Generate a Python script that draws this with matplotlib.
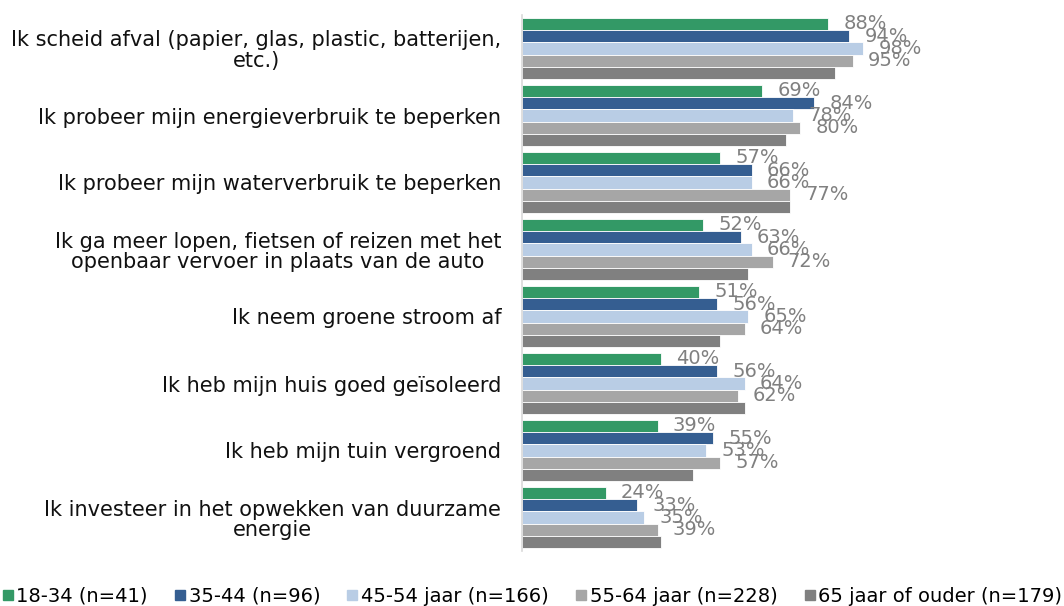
import matplotlib.pyplot as plt
from matplotlib.lines import Line2D
import numpy as np

plt.rcParams['font.family'] = ['DejaVu Sans']

categories = [
    "Ik scheid afval (papier, glas, plastic, batterijen,\netc.)",
    "Ik probeer mijn energieverbruik te beperken",
    "Ik probeer mijn waterverbruik te beperken",
    "Ik ga meer lopen, fietsen of reizen met het\nopenbaar vervoer in plaats van de auto",
    "Ik neem groene stroom af",
    "Ik heb mijn huis goed geïsoleerd",
    "Ik heb mijn tuin vergroend",
    "Ik investeer in het opwekken van duurzame\nenergie",
]
series_names = ["18-34 (n=41)", "35-44 (n=96)", "45-54 jaar (n=166)",
                "55-64 jaar (n=228)", "65 jaar of ouder (n=179)"]
v_18_34 = [88, 69, 57, 52, 51, 40, 39, 24]
v_35_44 = [94, 84, 66, 63, 56, 56, 55, 33]
v_45_54 = [98, 78, 66, 66, 65, 64, 53, 35]
v_55_64 = [95, 80, 77, 72, 64, 62, 57, 39]
v_65plus = [90, 76, 77, 65, 57, 64, 49, 40]
# the oldest group has no data labels in the original
show_labels = [True, True, True, True, False]

colors = ["#339966", "#355E91", "#B9CDE5", "#A6A6A6", "#808080"]
values = [v_18_34, v_35_44, v_45_54, v_55_64, v_65plus]

fig = plt.figure(figsize=(10.64, 6.06), dpi=100)
ax = fig.add_axes([522 / 1064, 55 / 606, 348 / 1064, 536 / 606])

y = np.arange(len(categories))
h = 0.184
for j, vals in enumerate(values):
    pos = y + (j - 2) * h
    ax.barh(pos, vals, height=h, color=colors[j], edgecolor="white", linewidth=0.6)
    if show_labels[j]:
        for p, v in zip(pos, vals):
            ax.annotate(f"{v}%", (v, p), xytext=(11, 0), textcoords="offset points",
                        va="center", ha="left", fontsize=14, color="#808080",
                        annotation_clip=False)

ax.set_xlim(0, 100)
ax.set_ylim(len(categories) - 0.5, -0.5)
ax.set_yticks(y)
ax.set_yticklabels(categories, fontsize=15, color="#111111", multialignment="center")
for t in ax.get_yticklabels():
    t.set_linespacing(1.05)
ax.tick_params(axis="y", length=0, pad=15)
ax.set_xticks([])
for s in ["top", "right", "bottom"]:
    ax.spines[s].set_visible(False)
ax.spines["left"].set_color("#d9d9d9")
ax.spines["left"].set_linewidth(1.2)

handles = [Line2D([], [], marker="s", linestyle="none", markersize=7,
                  markerfacecolor=c, markeredgecolor=c) for c in colors]
fig.legend(handles, series_names, loc="center", bbox_to_anchor=(0.5, 10 / 606),
           ncol=5, frameon=False, fontsize=14, handlelength=0.6,
           handletextpad=0.15, columnspacing=1.35, borderpad=0)

fig.savefig("out.png", dpi=100)
